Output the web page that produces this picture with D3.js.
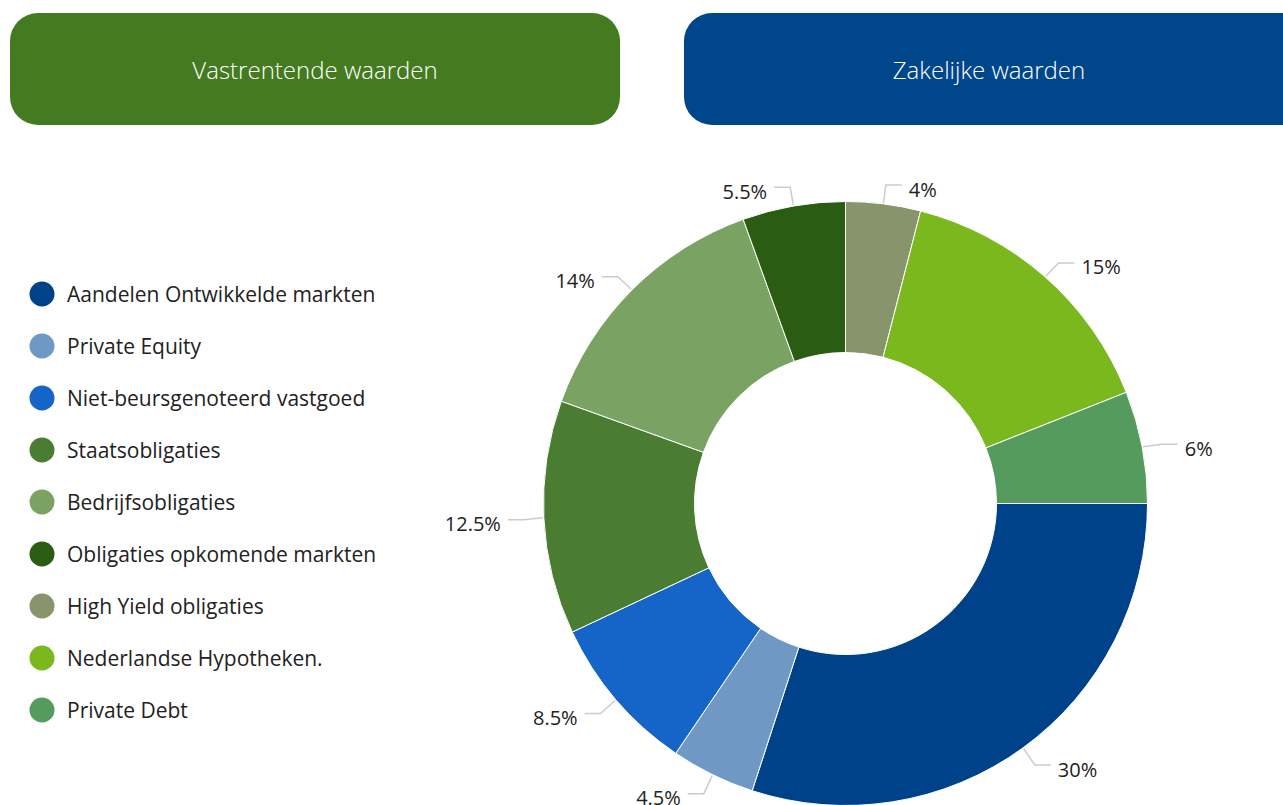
<!DOCTYPE html>
<html>
<head>
<meta charset="utf-8">
<script src="https://cdn.jsdelivr.net/npm/d3@7/dist/d3.min.js"></script>
<style>
  html, body { margin: 0; padding: 0; background: #fff; overflow: hidden; }
  svg { display: block; font-family: "Open Sans", "Noto Sans", sans-serif; }
</style>
</head>
<body>
<svg id="chart" width="1283" height="805"></svg>
<script>
const categories = [
  "Aandelen Ontwikkelde markten",
  "Private Equity",
  "Niet-beursgenoteerd vastgoed",
  "Staatsobligaties",
  "Bedrijfsobligaties",
  "Obligaties opkomende markten",
  "High Yield obligaties",
  "Nederlandse Hypotheken.",
  "Private Debt"
];
const values = [30, 4.5, 8.5, 12.5, 14, 5.5, 4, 15, 6];
const labels = ["30%", "4.5%", "8.5%", "12.5%", "14%", "5.5%", "4%", "15%", "6%"];
const colors = ["#00428a", "#6f98c4", "#1565c8", "#4a7c31", "#7aa263", "#2a5c12", "#87946c", "#7ab81d", "#559b5e"];
const headers = ["Vastrentende waarden", "Zakelijke waarden"];
const headerColors = ["#447a20", "#00468b"];

const svg = d3.select("#chart");

// Header buttons
const hdr = [
  {x: 10, w: 610, tx: 315},
  {x: 684, w: 640, tx: 989}
];
headers.forEach((t, i) => {
  svg.append("rect")
    .attr("x", hdr[i].x).attr("y", 13)
    .attr("width", hdr[i].w).attr("height", 112)
    .attr("rx", 28).attr("ry", 28)
    .attr("fill", headerColors[i]);
  svg.append("text")
    .attr("x", hdr[i].tx)
    .attr("y", 69)
    .attr("text-anchor", "middle")
    .attr("dominant-baseline", "central")
    .attr("fill", "#fff")
    .attr("font-size", 24)
    .attr("font-weight", 300)
    .text(t);
});

// Legend
const legendY = d3.scalePoint().domain(categories).range([294, 710]);
const lg = svg.append("g");
categories.forEach((c, i) => {
  lg.append("circle")
    .attr("cx", 42).attr("cy", legendY(c)).attr("r", 12.5)
    .attr("fill", colors[i]);
  lg.append("text")
    .attr("x", 67).attr("y", legendY(c))
    .attr("dominant-baseline", "central")
    .attr("fill", "#222")
    .attr("font-size", 21)
    .text(c);
});

// Donut
const cx = 845.5, cy = 503.5, R = 302, r = 151;
const pie = d3.pie().sort(null).value(d => d)
  .startAngle(Math.PI / 2).endAngle(Math.PI / 2 + 2 * Math.PI);
const arcs = pie(values);
const arc = d3.arc().innerRadius(r).outerRadius(R);
const g = svg.append("g").attr("transform", `translate(${cx},${cy})`);

g.selectAll("path.slice").data(arcs).enter().append("path")
  .attr("class", "slice")
  .attr("d", arc)
  .attr("fill", (d, i) => colors[i])
  .attr("stroke", "#fff")
  .attr("stroke-width", 1);

// Labels with connectors
arcs.forEach((d, i) => {
  const a = (d.startAngle + d.endAngle) / 2;
  const sx = Math.sin(a), sy = -Math.cos(a);
  const side = sx >= 0 ? 1 : -1;
  const p0 = [ (R + 1) * sx, (R + 1) * sy ];
  const k = [ (R + 20) * sx, (R + 20) * sy + 1 ];
  const e = [ k[0] + side * 16, k[1] ];
  g.append("path")
    .attr("d", d3.line()([p0, k, e]))
    .attr("fill", "none")
    .attr("stroke", "#cccccc")
    .attr("stroke-width", 1.5);
  g.append("text")
    .attr("x", e[0] + side * 7)
    .attr("y", e[1] + 4)
    .attr("text-anchor", side > 0 ? "start" : "end")
    .attr("dominant-baseline", "central")
    .attr("fill", "#222")
    .attr("font-size", 20)
    .attr("font-weight", 400)
    .text(labels[i]);
});
</script>
</body>
</html>
